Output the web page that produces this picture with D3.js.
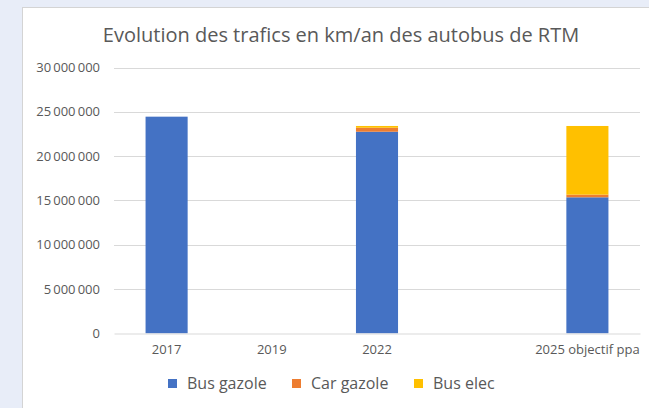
<!DOCTYPE html>
<html lang="fr">
<head>
<meta charset="UTF-8">
<title>Evolution des trafics</title>
<style>
    body { margin: 0; background: #e8edf8; font-family: "Open Sans", sans-serif; }
    #chart { position: absolute; left: 0; top: 0; }
    .tick text { fill: #595959; font-size: 13px; font-family: "Open Sans", sans-serif; }
</style>
</head>
<body>
<div id="chart"></div>
<script src="https://d3js.org/d3.v7.min.js"></script>
<script>
    const categories = ["2017", "2019", "2022", "", "2025 objectif ppa"];
    const series = ["Bus gazole", "Car gazole", "Bus elec"];
    const colors = ["#4472c4", "#ed7d31", "#ffc000"];
    const busGazole = [24450000, 0, 22750000, 0, 15350000];
    const carGazole = [0, 0, 450000, 0, 300000];
    const busElec = [0, 0, 200000, 0, 7750000];
    const yTicks = [0, 5000000, 10000000, 15000000, 20000000, 25000000, 30000000];

    const width = 649, height = 408;
    const plot = { left: 114, right: 640, top: 67.5, bottom: 333.3 };

    const svg = d3.select("#chart").append("svg")
        .attr("width", width)
        .attr("height", height);

    // white chart panel
    svg.append("rect")
        .attr("x", 22.5).attr("y", 7.5)
        .attr("width", width).attr("height", height)
        .attr("fill", "#fff")
        .attr("stroke", "#d4d4d4");

    svg.append("text")
        .attr("x", 341).attr("y", 42)
        .attr("text-anchor", "middle")
        .attr("fill", "#595959")
        .style("font-size", "20px")
        .text("Evolution des trafics en km/an des autobus de RTM");

    const x = d3.scaleBand()
        .domain(categories.map((c, i) => i))
        .range([plot.left, plot.right])
        .paddingInner(0.6)
        .paddingOuter(0.3);

    const y = d3.scaleLinear()
        .domain([0, 30000000])
        .range([plot.bottom, plot.top]);

    const fmt = v => d3.format(",")(v).replace(/,/g, "\u2009");

    // gridlines
    svg.append("g")
        .selectAll("line")
        .data(yTicks.slice(1))
        .join("line")
        .attr("x1", plot.left).attr("x2", plot.right)
        .attr("y1", d => Math.round(y(d)) + 0.5)
        .attr("y2", d => Math.round(y(d)) + 0.5)
        .attr("stroke", "#d9d9d9");

    const yAxis = svg.append("g")
        .attr("transform", `translate(${plot.left - 12},0)`)
        .call(d3.axisLeft(y).tickValues(yTicks).tickFormat(d => fmt(d)).tickSize(0).tickPadding(2));
    yAxis.select(".domain").remove();

    // stacked bars
    const table = categories.map((c, i) => ({
        i: i,
        "Bus gazole": busGazole[i],
        "Car gazole": carGazole[i],
        "Bus elec": busElec[i]
    }));
    const stack = d3.stack().keys(series)(table);

    svg.append("g")
        .selectAll("g")
        .data(stack)
        .join("g")
        .attr("fill", (d, i) => colors[i])
        .selectAll("rect")
        .data(d => d.filter(p => p[1] > p[0]))
        .join("rect")
        .attr("x", d => x(d.data.i))
        .attr("width", x.bandwidth())
        .attr("y", d => y(d[1]))
        .attr("height", d => y(d[0]) - y(d[1]));

    const xAxis = svg.append("g")
        .attr("transform", `translate(0,${Math.round(plot.bottom) + 0.5})`)
        .call(d3.axisBottom(x).tickFormat(i => categories[i]).tickSize(0).tickPadding(11));
    xAxis.select(".domain").attr("stroke", "#d9d9d9");

    // legend
    const legendX = [168, 292, 414];
    const legend = svg.append("g")
        .selectAll("g")
        .data(series)
        .join("g")
        .attr("transform", (d, i) => `translate(${legendX[i]},384)`);
    legend.append("rect")
        .attr("x", 0).attr("y", -5)
        .attr("width", 9).attr("height", 9)
        .attr("fill", (d, i) => colors[i]);
    legend.append("text")
        .attr("x", 19).attr("y", 0)
        .attr("dy", "0.33em")
        .attr("fill", "#595959")
        .style("font-size", "16px")
        .text(d => d);
</script>
</body>
</html>
